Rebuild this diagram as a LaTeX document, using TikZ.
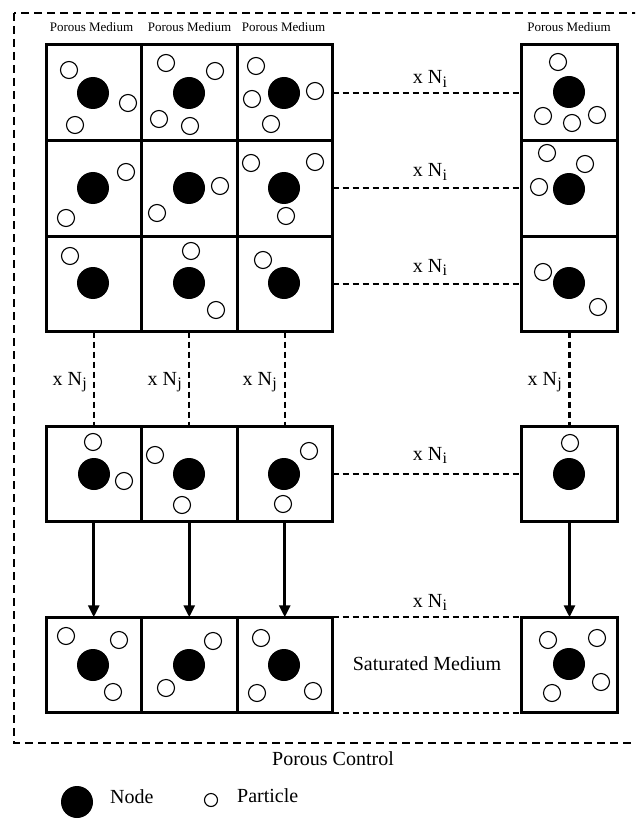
\documentclass[tikz,border=0pt]{standalone}
\usepackage{fontspec}
\setmainfont{Liberation Serif}
\usetikzlibrary{arrows.meta}
\newcommand{\xN}[1]{x N\kern0.3pt\raisebox{-3.5pt}{\fontsize{16}{16}\selectfont #1}}
\newcommand{\NodeDot}[2]{\fill (#1,#2) circle (16pt);}
\newcommand{\Pcl}[2]{\draw[line width=1.1pt, fill=white] (#1,#2) circle (8.5pt);}
\tikzset{
  cell/.style={draw, line width=3pt, minimum width=95.5pt, minimum height=95.5pt, inner sep=0pt, outer sep=0pt},
  conn/.style={line width=2.3pt, dash pattern=on 6pt off 4pt},
  outerbox/.style={line width=2.3pt, dash pattern=on 8pt off 5pt},
  arr/.style={line width=3pt, -{Triangle[width=11pt,length=12pt]}},
  lab/.style={font=\fontsize{20}{24}\selectfont, inner sep=0pt},
  pm/.style={font=\fontsize{13}{15}\selectfont, inner sep=0pt}
}
\begin{document}
\begin{tikzpicture}[x=1pt,y=-1pt]
\useasboundingbox (0,0) rectangle (635,821);
\clip (0,0) rectangle (635,821);
\fill[white] (0,0) rectangle (635,821);
% outer dashed control box
\draw[outerbox] (14,13) rectangle (650,743);
% cells
\foreach \r/\yy in {a/92.75,b/188.25,c/283.75,d/474,e/665}{
  \foreach \c/\xx in {1/93.75,2/189.25,3/284.75,4/569.5}{
    \node[cell] (\r\c) at (\xx,\yy) {};
  }
}
% Porous Medium labels
\node[pm, anchor=base] (pm1) at (91.5,32) {Porous Medium};
\node[pm, anchor=base] (pm2) at (189.5,32) {Porous Medium};
\node[pm, anchor=base] (pm3) at (283.5,32) {Porous Medium};
\node[pm, anchor=base] (pm4) at (569,32) {Porous Medium};
% horizontal dashed connectors
\draw[conn] (a3.east) -- (a4.west);
\draw[conn] (b3.east) -- (b4.west);
\draw[conn] (c3.east) -- (c4.west);
\draw[conn] (d3.east) -- (d4.west);
\draw[conn] (e3.north east) -- (e4.north west);
\draw[conn] (e3.south east) -- (e4.south west);
\node[lab, anchor=base] (ni1) at (430,84) {\xN{i}};
\node[lab, anchor=base] (ni2) at (430,177) {\xN{i}};
\node[lab, anchor=base] (ni3) at (430,272) {\xN{i}};
\node[lab, anchor=base] (ni4) at (430,460) {\xN{i}};
\node[lab, anchor=base] (ni5) at (430,607) {\xN{i}};
% vertical dashed connectors
\draw[conn] (c1.south) -- (d1.north);
\draw[conn] (c2.south) -- (d2.north);
\draw[conn] (c3.south) -- (d3.north);
\draw[conn] (c4.south) -- (d4.north);
\node[lab, anchor=base east] (nj1) at (87,385) {\xN{j}};
\node[lab, anchor=base east] (nj2) at (182,385) {\xN{j}};
\node[lab, anchor=base east] (nj3) at (277,385) {\xN{j}};
\node[lab, anchor=base east] (nj4) at (562,385) {\xN{j}};
% arrows
\draw[arr] (d1.south) -- (e1.north);
\draw[arr] (d2.south) -- (e2.north);
\draw[arr] (d3.south) -- (e3.north);
\draw[arr] (d4.south) -- (e4.north);
% Saturated medium
\node[lab] (sat) at (427,664) {Saturated Medium};
% Row 1
\NodeDot{93}{93} \Pcl{69}{70} \Pcl{128}{103} \Pcl{75}{125}
\NodeDot{189}{93} \Pcl{166}{63} \Pcl{215}{71} \Pcl{159}{119} \Pcl{190}{126}
\NodeDot{284}{93} \Pcl{256}{66} \Pcl{252}{99} \Pcl{315}{91} \Pcl{271}{124}
\NodeDot{569}{92} \Pcl{558}{62} \Pcl{543}{116} \Pcl{572}{123} \Pcl{597}{115}
% Row 2
\NodeDot{93}{188} \Pcl{126}{172} \Pcl{66}{218}
\NodeDot{189}{188} \Pcl{220}{186} \Pcl{157}{213}
\NodeDot{284}{188} \Pcl{251}{163} \Pcl{315}{162} \Pcl{286}{216}
\NodeDot{569}{189} \Pcl{547}{153} \Pcl{585}{164} \Pcl{539}{187}
% Row 3
\NodeDot{93}{283} \Pcl{70}{256}
\NodeDot{189}{283} \Pcl{191}{251} \Pcl{216}{310}
\NodeDot{284}{283} \Pcl{263}{260}
\NodeDot{569}{283} \Pcl{543}{272} \Pcl{598}{307}
% Row 4
\NodeDot{94}{474} \Pcl{93}{442} \Pcl{124}{481}
\NodeDot{189}{474} \Pcl{155}{455} \Pcl{182}{505}
\NodeDot{284}{474} \Pcl{309}{451} \Pcl{283}{504}
\NodeDot{569}{474} \Pcl{570}{443}
% Row 5
\NodeDot{93}{665} \Pcl{66}{636} \Pcl{119}{640} \Pcl{113}{692}
\NodeDot{189}{665} \Pcl{213}{641} \Pcl{166}{688}
\NodeDot{284}{665} \Pcl{261}{638} \Pcl{257}{693} \Pcl{313}{691}
\NodeDot{569}{664} \Pcl{548}{640} \Pcl{597}{638} \Pcl{601}{682} \Pcl{552}{693}
% Porous Control
\node[lab, anchor=base] (pc) at (333,765) {Porous Control};
% legend
\fill (77,802) circle (16pt);
\node[lab, anchor=base west] (lnode) at (110,803) {Node};
\draw[line width=1.1pt] (211,800) circle (6.5pt);
\node[lab, anchor=base west] (lpart) at (237,802) {Particle};
\end{tikzpicture}
\end{document}
